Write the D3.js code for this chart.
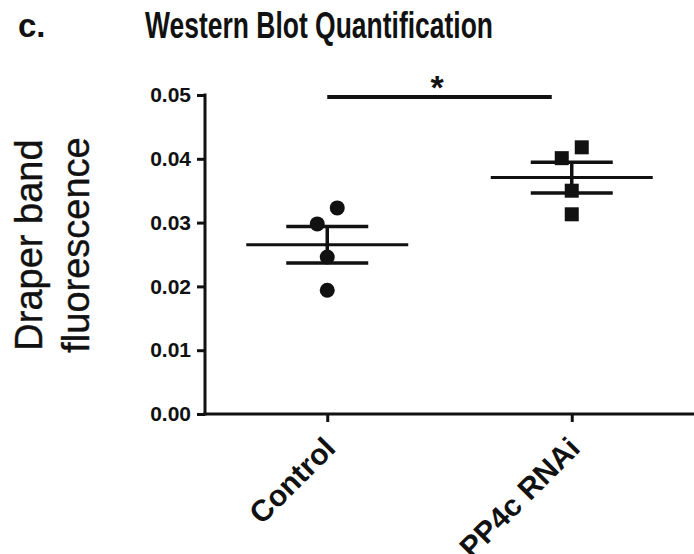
<!DOCTYPE html>
<html>
<head>
<meta charset="utf-8">
<script src="https://cdn.jsdelivr.net/npm/d3@7"></script>
<style>
    body { margin: 0; background: #fff; }
    text { font-family: "Liberation Sans", Arial, sans-serif; fill: #111; }
</style>
</head>
<body>
<div id="chart"></div>
<script>
// data
var groups = ['Control', 'PP4c RNAi'];
var controlValues = [0.0323, 0.0298, 0.0246, 0.0194];
var pp4cValues = [0.0418, 0.0401, 0.0350, 0.0313];
var yTicks = [0.00, 0.01, 0.02, 0.03, 0.04, 0.05];
var sigLabel = '*';
var sigLevel = 0.0497;

var width = 694, height = 554;
var plotLeft = 205, plotBottom = 414, plotTop = 95, plotRight = 694;

var svg = d3.select('#chart').append('svg')
    .attr('width', width)
    .attr('height', height);

var x = d3.scalePoint().domain(groups).range([plotLeft, plotRight]).padding(0.5);
var y = d3.scaleLinear().domain([0, 0.05]).range([plotBottom, plotTop]);

// title + panel letter
svg.append('text')
    .attr('x', 18).attr('y', 37)
    .style('font-size', '33px').style('font-weight', 'bold')
    .text('c.');
svg.append('text')
    .attr('x', 145).attr('y', 38)
    .attr('textLength', 348).attr('lengthAdjust', 'spacingAndGlyphs')
    .style('font-size', '37px').style('font-weight', 'bold')
    .style('font-family', '"Liberation Sans Narrow", "Liberation Sans", Arial, sans-serif')
    .text('Western Blot Quantification');

// y axis label, two lines
var yLabel = ['Draper band', 'fluorescence'];
yLabel.forEach(function(s, i) {
    svg.append('text')
        .attr('transform', 'translate(' + (42 + i * 47) + ',245) rotate(-90)')
        .attr('text-anchor', 'middle')
        .style('font-size', '38px')
        .style('stroke', '#111').style('stroke-width', 0.4)
        .text(s);
});

// y axis
var yAxis = svg.append('g')
    .attr('transform', 'translate(' + plotLeft + ',0)')
    .call(d3.axisLeft(y).tickValues(yTicks).tickFormat(d3.format('.2f')).tickSize(8).tickPadding(6).tickSizeOuter(0));
yAxis.select('.domain').attr('stroke', '#111').attr('stroke-width', 3)
    .attr('d', 'M0,' + (plotTop - 1.5) + 'V' + (plotBottom + 1.5));
yAxis.selectAll('.tick line').attr('stroke', '#111').attr('stroke-width', 3);
yAxis.selectAll('.tick text')
    .style('font-size', '21px').style('font-weight', 'bold')
    .style('font-family', '"Liberation Sans", Arial, sans-serif')
    .attr('fill', '#111');

// x axis
var xAxis = svg.append('g')
    .attr('transform', 'translate(0,' + plotBottom + ')')
    .call(d3.axisBottom(x).tickSize(8).tickSizeOuter(0));
xAxis.select('.domain').attr('stroke', '#111').attr('stroke-width', 3)
    .attr('d', 'M' + (plotLeft - 1.5) + ',0H' + plotRight);
xAxis.selectAll('.tick line').attr('stroke', '#111').attr('stroke-width', 3);
xAxis.selectAll('.tick text').remove();
groups.forEach(function(g) {
    svg.append('text')
        .attr('transform', 'translate(' + (x(g) + 10) + ',' + (plotBottom + 36) + ') rotate(-45)')
        .attr('text-anchor', 'end')
        .style('font-size', '30px').style('font-weight', 'bold')
        .text(g);
});

// spread points that sit close together, like the scatter-dot layout
function spread(values) {
    var sorted = values.slice().sort(d3.descending);
    var out = sorted.map(function(v) { return { v: v, dx: 0 }; });
    for (var i = 0; i < out.length - 1; i++) {
        if (out[i].dx === 0 && out[i + 1].dx === 0 && y(out[i + 1].v) - y(out[i].v) < 20) {
            out[i].dx = 10;
            out[i + 1].dx = -10;
        }
    }
    return out;
}

var series = [
    { name: groups[0], values: controlValues, shape: 'circle' },
    { name: groups[1], values: pp4cValues, shape: 'square' }
];

series.forEach(function(s) {
    var cx = x(s.name);
    var mean = d3.mean(s.values);
    var sem = d3.deviation(s.values) / Math.sqrt(s.values.length);
    var g = svg.append('g');

    // mean line
    g.append('line')
        .attr('x1', cx - 81).attr('x2', cx + 81)
        .attr('y1', y(mean)).attr('y2', y(mean))
        .attr('stroke', '#111').attr('stroke-width', 3);
    // SEM whisker + caps
    g.append('line')
        .attr('x1', cx).attr('x2', cx)
        .attr('y1', y(mean + sem)).attr('y2', y(mean - sem))
        .attr('stroke', '#111').attr('stroke-width', 3.5);
    [mean + sem, mean - sem].forEach(function(v) {
        g.append('line')
            .attr('x1', cx - 41).attr('x2', cx + 41)
            .attr('y1', y(v)).attr('y2', y(v))
            .attr('stroke', '#111').attr('stroke-width', 3.5);
    });

    var pts = spread(s.values);
    if (s.shape === 'circle') {
        g.selectAll('circle').data(pts).enter().append('circle')
            .attr('cx', function(d) { return cx + d.dx; })
            .attr('cy', function(d) { return y(d.v); })
            .attr('r', 7.5)
            .attr('fill', '#111');
    } else {
        g.selectAll('rect').data(pts).enter().append('rect')
            .attr('x', function(d) { return cx + d.dx - 7; })
            .attr('y', function(d) { return y(d.v) - 7; })
            .attr('width', 14).attr('height', 14)
            .attr('fill', '#111');
    }
});

// significance bar
svg.append('line')
    .attr('x1', x(groups[0])).attr('x2', x(groups[1]) - 20)
    .attr('y1', y(sigLevel)).attr('y2', y(sigLevel))
    .attr('stroke', '#111').attr('stroke-width', 4);
svg.append('text')
    .attr('x', 437).attr('y', y(sigLevel) + 2)
    .attr('text-anchor', 'middle')
    .style('font-size', '34px').style('font-weight', 'bold')
    .text(sigLabel);
</script>
</body>
</html>
